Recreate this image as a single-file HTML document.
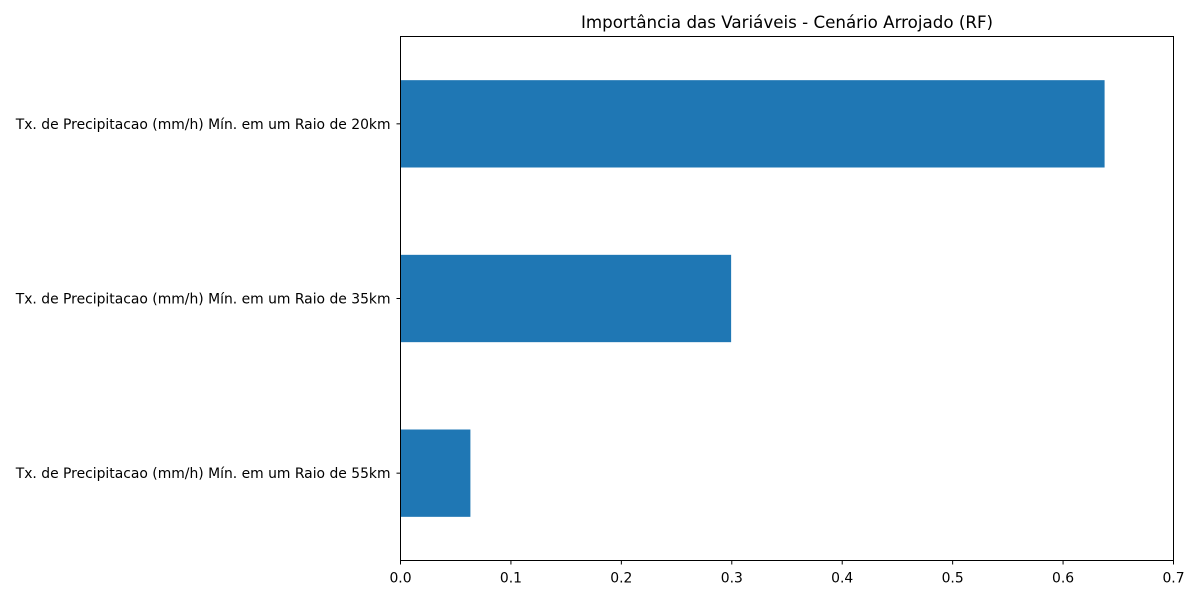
<!DOCTYPE html>
<html><head><meta charset="utf-8"><style>
body{margin:0;background:#fff;}
svg text{font-family:"DejaVu Sans","Liberation Sans",sans-serif;}
</style></head><body>
<svg id="chart" width="1200" height="600" xmlns="http://www.w3.org/2000/svg">
<rect width="1200" height="600" fill="#fff"/>
<text x="787" y="28" text-anchor="middle" font-size="16.7" fill="#000">Importância das Variáveis - Cenário Arrojado (RF)</text>
<g id="bars"></g>
<g id="xticks"></g>
<g id="yticks"></g>
<rect x="400.5" y="36.5" width="773" height="524" fill="none" stroke="#000" stroke-width="1"/>
</svg>
<script>
const categories = ["Tx. de Precipitacao (mm/h) Mín. em um Raio de 20km","Tx. de Precipitacao (mm/h) Mín. em um Raio de 35km","Tx. de Precipitacao (mm/h) Mín. em um Raio de 55km"];
const importances = [0.6376, 0.2994, 0.0633];
const xTickValues = [0,0.1,0.2,0.3,0.4,0.5,0.6,0.7];
const xTickLabels = ["0.0","0.1","0.2","0.3","0.4","0.5","0.6","0.7"];

const L=400.5,R=1173.5,T=36.5,B=560.5,xMax=0.7;
const NS="http://www.w3.org/2000/svg";
function xs(v){return L+(v/xMax)*(R-L);}
const band=(B-T)/categories.length;
function yc(i){return T+band*(i+0.5);}
function mk(tag,attrs,parent){const e=document.createElementNS(NS,tag);for(const k in attrs)e.setAttribute(k,attrs[k]);parent.appendChild(e);return e;}
const gb=document.getElementById('bars'),gx=document.getElementById('xticks'),gy=document.getElementById('yticks');
categories.forEach((c,i)=>{
  const r=mk('rect',{x:xs(0),y:yc(i)-band*0.25,width:xs(importances[i])-xs(0),height:band*0.5,fill:'#1f77b4'},gb);
  
  
  const t=mk('line',{x1:L-4,x2:L,y1:yc(i),y2:yc(i),stroke:'#000'},gy);
  
  
  const l=mk('text',{x:L-10,y:yc(i)+5,'text-anchor':'end','font-size':'13.9',fill:'#000'},gy);
  l.textContent=c;
  
  
});
xTickValues.forEach((v,i)=>{
  const t=mk('line',{x1:xs(v),x2:xs(v),y1:B,y2:B+4,stroke:'#000'},gx);
  
  
  const l=mk('text',{x:xs(v),y:B+22,'text-anchor':'middle','font-size':'13.9',fill:'#000'},gx);
  l.textContent=xTickLabels[i];
  
  
});
</script>
</body></html>
